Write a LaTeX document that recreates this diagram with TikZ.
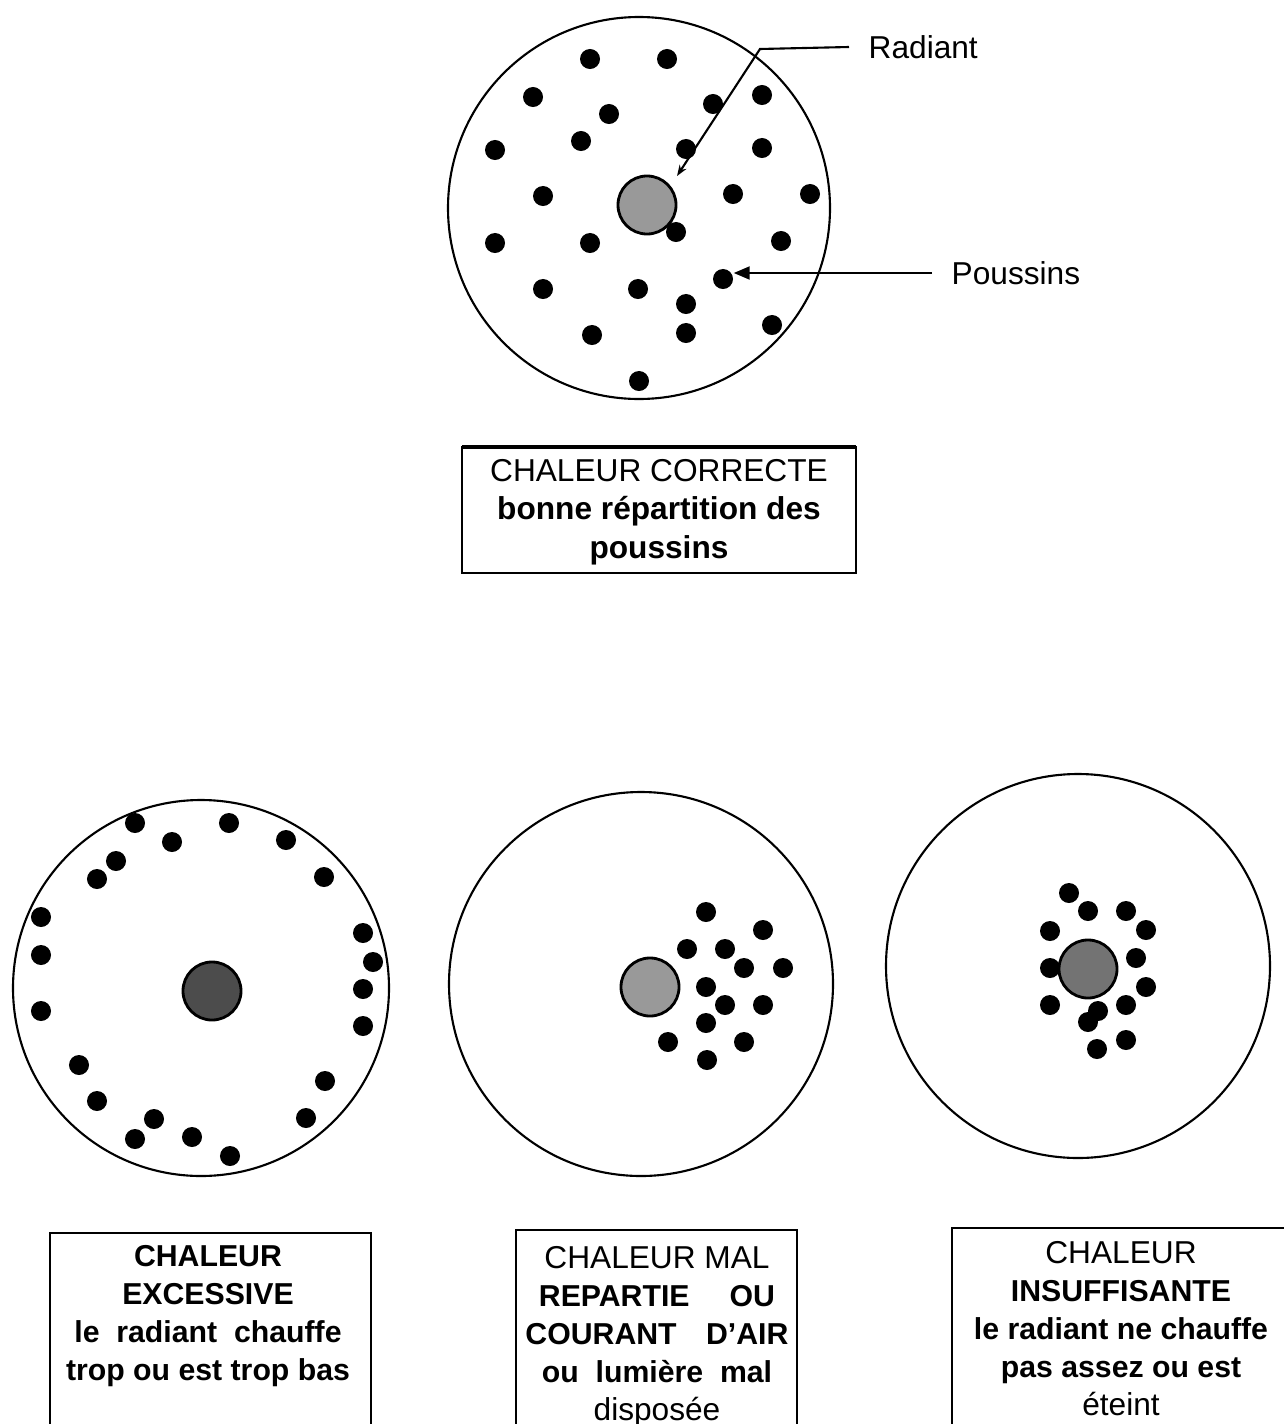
\documentclass[tikz,border=0pt]{standalone}
\usepackage{fontspec}
\setmainfont{Liberation Sans}
\usetikzlibrary{arrows.meta}
\newcommand{\grasligne}[1]{{\fontsize{8.6pt}{10.8pt}\selectfont\bfseries #1}}

\begin{document}
\begin{tikzpicture}[x=0.01cm,y=-0.01cm,
  enclos/.style={line width=0.6pt},
  radiant/.style={circle,draw,line width=0.8pt,fill=black!50,minimum size=0.58cm,inner sep=0pt},
  poussin/.style={circle,fill=black,minimum size=0.2cm,inner sep=0pt},
  legende/.style={anchor=west,inner xsep=0.19cm,font=\fontsize{9pt}{10.8pt}\selectfont},
  texte/.style={align=center,font=\fontsize{9pt}{10.8pt}\selectfont},
  cadre/.style={line width=0.6pt}]
  \useasboundingbox (0,0) rectangle (1284,1424);
  \clip (0,0) rectangle (1284,1424);

  % chaleur correcte
  \draw [enclos] (639,208) circle [radius=191];
  \node [radiant, fill=black!40] (r0) at (647,205) {};
  \foreach \px/\py [count=\i] in {590/59, 667/59, 533/97, 609/114, 713/104, 762/95,
      495/150, 581/141, 686/149, 762/148, 543/196, 733/194, 810/194, 495/243,
      590/243, 676/232, 781/241, 723/279, 543/289, 638/289, 686/304, 592/335,
      686/333, 772/325, 639/381}
    \node [poussin] (t\i) at (\px,\py) {};
  \node [legende] (lrad) at (849,47) {Radiant};
  \coordinate (coude) at (760,49);
  \coordinate (pointe) at (677,176);
  \draw [line width=0.6pt, -{Stealth[length=0.11cm,width=0.08cm]}] (lrad.west) -- (coude) -- (pointe);
  \node [legende] (lpou) at (932,273) {Poussins};
  \draw [line width=0.6pt, -{Triangle[length=0.16cm,width=0.13cm]}] (lpou.west) -- (lpou.west -| t18.east);
  \draw [cadre] (462,447) rectangle (856,573);
  \draw [line width=1.3pt] (462,447) -- (856,447);
  \node [texte, font=\fontsize{9pt}{11pt}\selectfont] (c0) at (659,512) {CHALEUR CORRECTE\\\textbf{bonne répartition des}\\\textbf{poussins}};

  % chaleur excessive
  \draw [enclos] (201,988) circle [radius=188];
  \node [radiant, fill=black!70] (r1) at (212,991) {};
  \foreach \px/\py [count=\i] in {135/823, 229/823, 172/842, 286/840, 116/861, 97/879,
      324/877, 41/917, 363/933, 373/962, 41/955, 363/989, 41/1011, 363/1026,
      79/1065, 325/1081, 97/1101, 306/1118, 154/1119, 135/1139, 192/1137, 230/1156}
    \node [poussin] (a\i) at (\px,\py) {};
  \draw [cadre] (50,1424) -- (50,1233) -- (371,1233) -- (371,1424);
  \node [texte] (c1) at (208,1316) {\grasligne{CHALEUR}\\\grasligne{EXCESSIVE}\\\grasligne{le~ radiant~ chauffe}\\\grasligne{trop ou est trop bas}};

  % chaleur mal repartie
  \draw [enclos] (641,984) circle [radius=192];
  \node [radiant, fill=black!40] (r2) at (650,987) {};
  \foreach \px/\py [count=\i] in {706/912, 763/930, 687/949, 725/949, 744/968, 783/968,
      706/987, 725/1005, 763/1005, 706/1023, 668/1042, 744/1042, 707/1060}
    \node [poussin] (b\i) at (\px,\py) {};
  \draw [cadre] (516,1424) -- (516,1230) -- (797,1230) -- (797,1424);
  \node [texte] (c2) at (657,1337) {CHALEUR MAL\\\grasligne{REPARTIE\hspace{9pt} OU}\\\grasligne{COURANT\hspace{6pt} D'AIR}\\\grasligne{ou~ lumière~ mal}\\disposée};

  % chaleur insuffisante
  \draw [enclos] (1078,966) circle [radius=192];
  \node [radiant, fill=black!55] (r3) at (1088,969) {};
  \foreach \px/\py [count=\i] in {1069/893, 1088/911, 1126/911, 1050/931, 1146/930,
      1136/958, 1050/968, 1146/987, 1050/1005, 1098/1011, 1126/1005, 1088/1022,
      1126/1040, 1097/1049}
    \node [poussin] (d\i) at (\px,\py) {};
  \draw [cadre] (952,1424) -- (952,1228) -- (1284,1228);
  \node [texte] (c3) at (1121,1329) {CHALEUR\\\grasligne{INSUFFISANTE}\\\grasligne{le radiant ne chauffe}\\\grasligne{pas assez ou est}\\éteint};
\end{tikzpicture}
\end{document}
